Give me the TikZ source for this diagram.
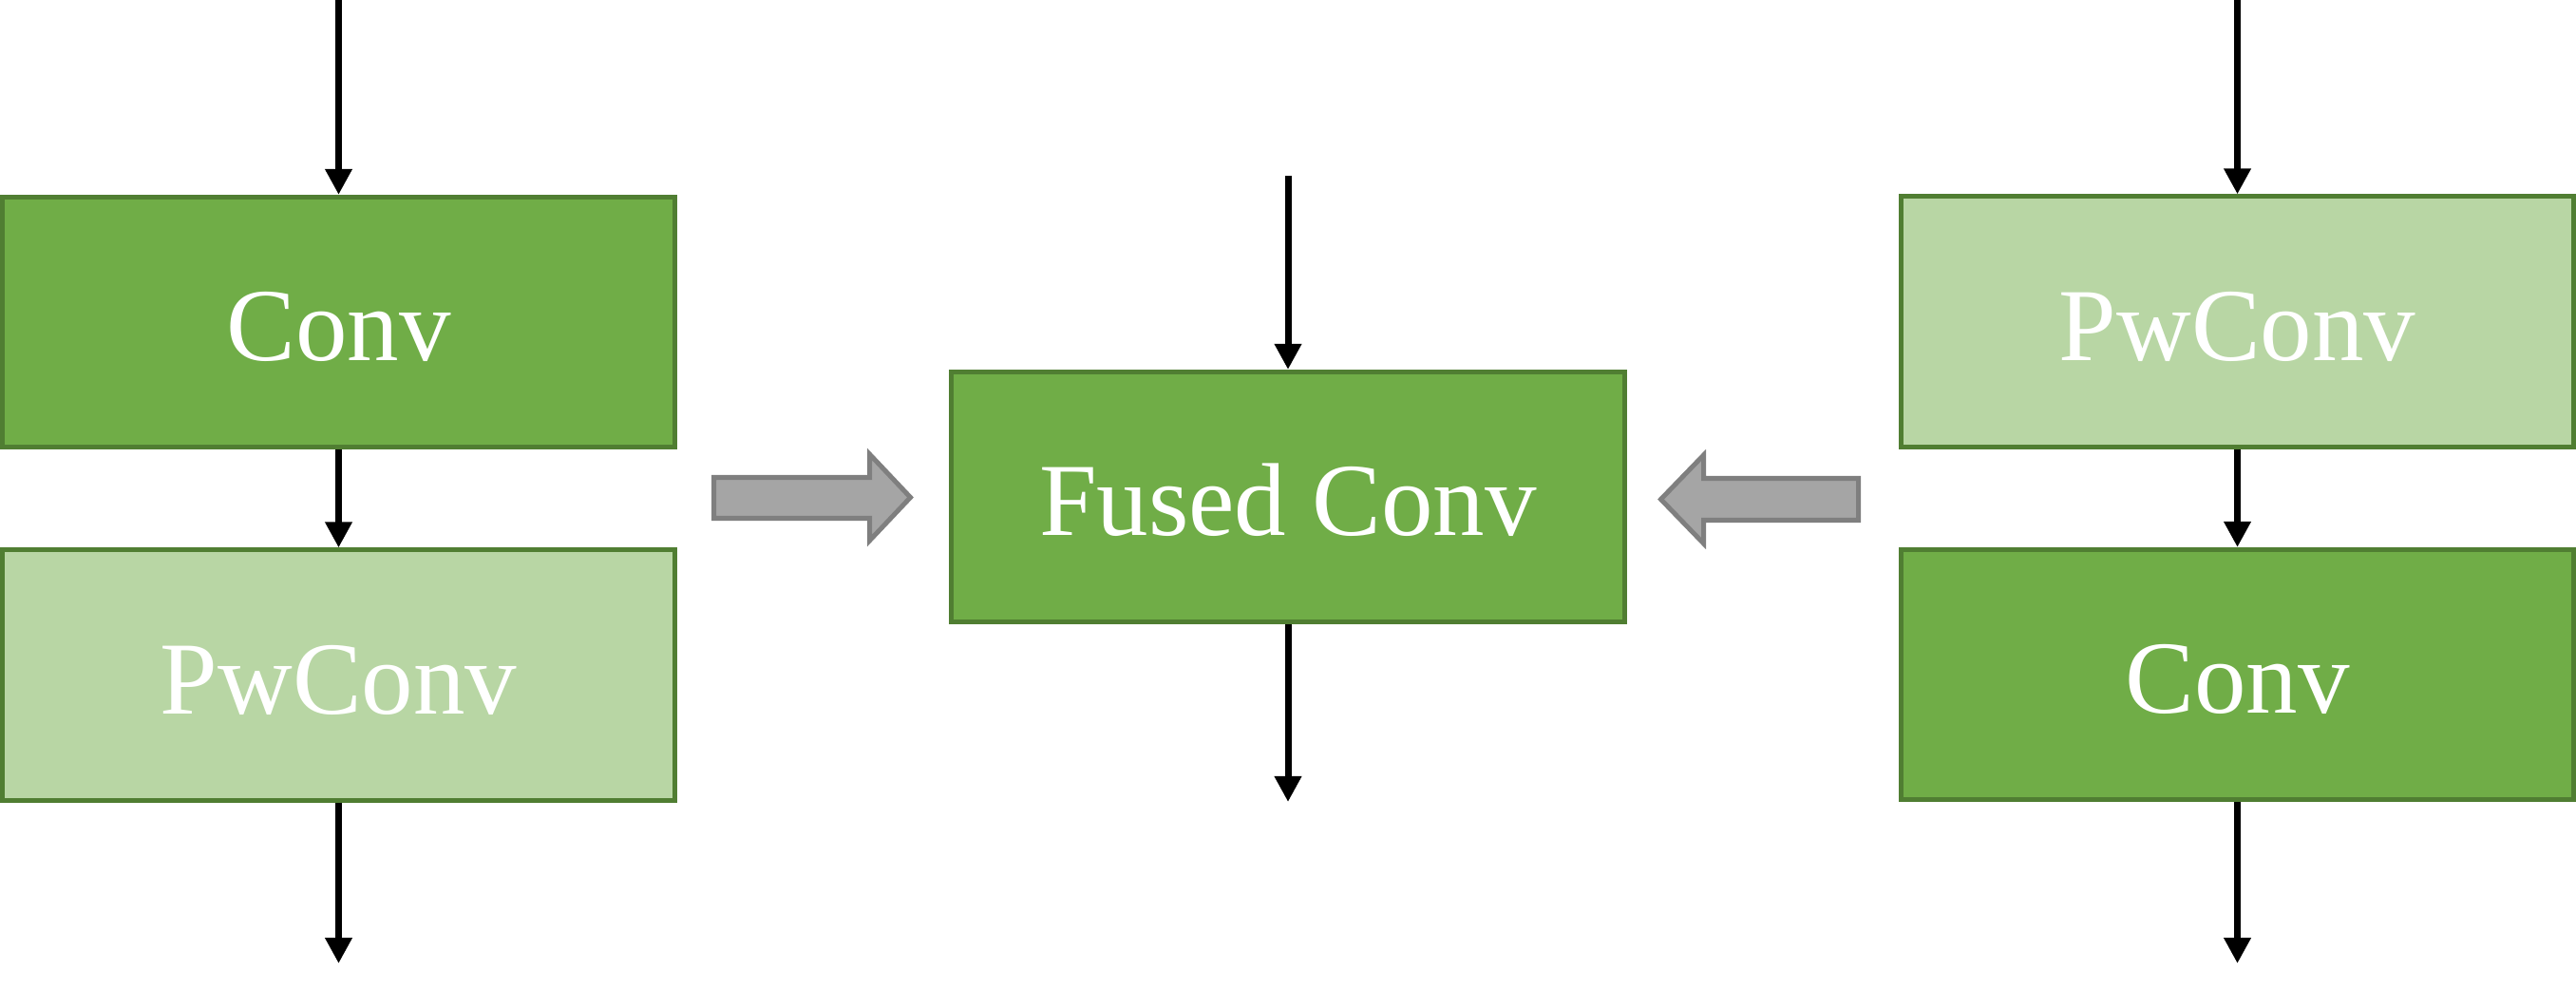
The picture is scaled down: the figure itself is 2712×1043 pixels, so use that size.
\documentclass[tikz,border=0pt]{standalone}
\usepackage{fontspec}
\setmainfont{Liberation Serif}
\usetikzlibrary{arrows.meta}
\definecolor{gdark}{HTML}{70AD47}
\definecolor{glight}{HTML}{B8D6A4}
\definecolor{gedge}{HTML}{507E32}
\definecolor{afill}{HTML}{A5A5A5}
\definecolor{aedge}{HTML}{7F7F7F}
\begin{document}
\begin{tikzpicture}[x=0.01cm,y=-0.01cm,
  blk/.style={draw=gedge,line width=0.05cm,minimum width=7.08cm,minimum height=2.63cm,
    inner sep=0pt,text=white,text height=0.81cm,text depth=0cm,
    font=\fontsize{31}{31}\selectfont},
  dark/.style={blk,fill=gdark},
  light/.style={blk,fill=glight},
  flow/.style={line width=0.07cm,-{Triangle[length=0.27cm,width=0.27cm]}},
  bigarrow/.style={fill=afill,draw=aedge,line width=0.05cm,line join=miter}]
\useasboundingbox (0,0) rectangle (2712,1043);
% left column
\node[dark]  (lconv) at (356.5,339) {Conv};
\node[light] (lpw)   at (356.5,710.5) {PwConv};
\coordinate (lin)  at (356.5,0);
\coordinate (lout) at (356.5,1014);
\draw[flow] (lin) -- (lconv.north);
\draw[flow] (lconv.south) -- (lpw.north);
\draw[flow] (lpw.south) -- (lout);
% center
\node[dark,minimum width=7.09cm] (fused) at (1356,523) {Fused Conv};
\coordinate (cin)  at (1356,185);
\coordinate (cout) at (1356,844);
\draw[flow] (cin) -- (fused.north);
\draw[flow] (fused.south) -- (cout);
% right column
\node[light] (rpw)   at (2355.5,338.5) {PwConv};
\node[dark]  (rconv) at (2355.5,710) {Conv};
\coordinate (rin)  at (2355.5,0);
\coordinate (rout) at (2355.5,1014);
\draw[flow] (rin) -- (rpw.north);
\draw[flow] (rpw.south) -- (rconv.north);
\draw[flow] (rconv.south) -- (rout);
% block arrows
\draw[bigarrow] (751.5,502.5) -- (915.5,502.5) -- (915.5,478) -- (958.5,523.5) -- (915.5,569) -- (915.5,545.5) -- (751.5,545.5) -- cycle;
\draw[bigarrow] (1956.5,503.5) -- (1793.5,503.5) -- (1793.5,479) -- (1748.5,525.5) -- (1793.5,572) -- (1793.5,547.5) -- (1956.5,547.5) -- cycle;
\end{tikzpicture}
\end{document}
